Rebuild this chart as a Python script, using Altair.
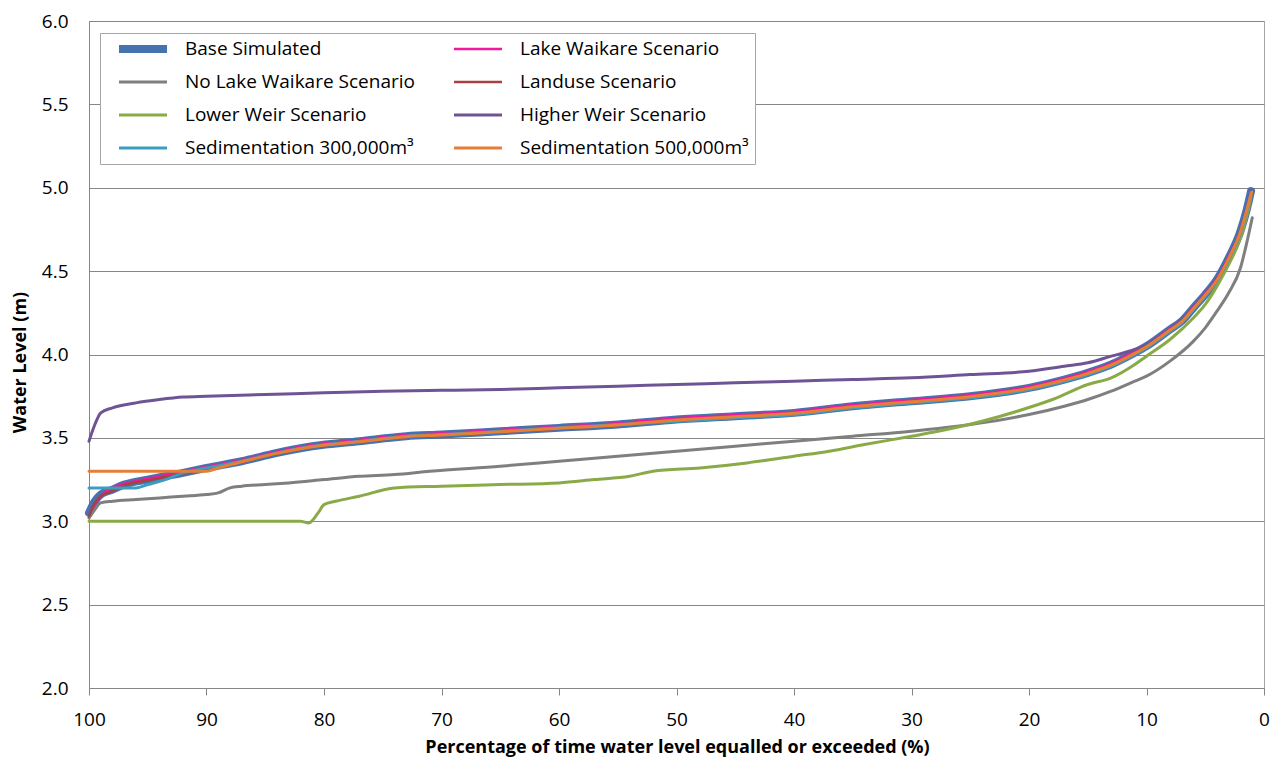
import altair as alt
import pandas as pd

# legend is filled column by column, so the domain is in column-major order
series_names = [
    "Base Simulated", "No Lake Waikare Scenario",
    "Lower Weir Scenario", "Sedimentation 300,000m³",
    "Lake Waikare Scenario", "Landuse Scenario",
    "Higher Weir Scenario", "Sedimentation 500,000m³",
]
series_colors = ["#4672B0", "#7F7F7F", "#8AAA48", "#3C9DBE",
                 "#F0199B", "#A5423F", "#6E5494", "#E57F36"]
series_widths = [8, 3, 3, 3, 2.5, 2.5, 3, 3]

# drawing order (bottom to top)
draw_order = [
    "Base Simulated", "Lake Waikare Scenario", "No Lake Waikare Scenario",
    "Landuse Scenario", "Lower Weir Scenario", "Higher Weir Scenario",
    "Sedimentation 300,000m³", "Sedimentation 500,000m³",
]

# shared exceedance grid for the base-like curves (%)
grid_x = [100, 99.5, 99, 98, 97, 95, 92, 90, 87, 84, 81, 77, 73, 70, 65, 60, 55,
          50, 45, 40, 35, 30, 25, 20, 17, 15, 13, 11, 10, 8, 7, 6, 5, 4, 3, 2, 1.5, 1.1]

base_y = [3.05, 3.12, 3.16, 3.19, 3.22, 3.25, 3.29, 3.32, 3.36, 3.41, 3.45, 3.48, 3.51,
          3.52, 3.54, 3.56, 3.58, 3.61, 3.63, 3.65, 3.69, 3.72, 3.75, 3.80, 3.85, 3.89,
          3.94, 4.01, 4.05, 4.15, 4.20, 4.28, 4.36, 4.45, 4.58, 4.74, 4.86, 4.98]
lake_y = [3.02, 3.10, 3.15, 3.20, 3.225, 3.255, 3.297, 3.327, 3.367, 3.417, 3.457, 3.487,
          3.517, 3.527, 3.547, 3.567, 3.587, 3.617, 3.637, 3.657, 3.697, 3.727, 3.757, 3.807,
          3.857, 3.897, 3.947, 4.017, 4.057, 4.157, 4.207, 4.287, 4.367, 4.457, 4.587,
          4.747, 4.867, 4.985]
landuse_y = [3.03, 3.11, 3.15, 3.18, 3.215, 3.245, 3.285, 3.315, 3.355, 3.405, 3.445, 3.475,
             3.505, 3.515, 3.535, 3.555, 3.575, 3.605, 3.625, 3.645, 3.685, 3.715, 3.745,
             3.795, 3.845, 3.885, 3.935, 4.005, 4.045, 4.145, 4.195, 4.275, 4.355, 4.445,
             4.575, 4.735, 4.855, 4.975]

nolake_x = [100, 99.5, 99, 98, 96, 94, 92, 90, 89, 88, 87, 85, 83, 80, 77, 74, 71, 65, 60,
            55, 50, 45, 40, 35, 30, 25, 20, 17, 15, 13, 11, 10, 8, 6, 5, 4, 3, 2, 1.5, 1.0]
nolake_y = [3.02, 3.07, 3.11, 3.12, 3.13, 3.14, 3.15, 3.16, 3.17, 3.20, 3.21, 3.22, 3.23,
            3.25, 3.27, 3.28, 3.30, 3.33, 3.36, 3.39, 3.42, 3.45, 3.48, 3.51, 3.54, 3.58,
            3.64, 3.69, 3.73, 3.78, 3.84, 3.87, 3.96, 4.08, 4.16, 4.26, 4.37, 4.52, 4.66, 4.82]

lower_x = [100, 90, 82, 81.3, 80.5, 80, 79, 77, 74, 70, 65, 60, 57, 54, 52, 48, 44, 40, 37,
           34, 30, 27, 24, 21, 18, 15, 13, 11, 10, 8, 6, 5, 4, 3, 2, 1.5, 1.1]
lower_y = [3.0, 3.0, 3.0, 2.99, 3.05, 3.10, 3.12, 3.15, 3.20, 3.21, 3.22, 3.23, 3.25, 3.27,
           3.30, 3.32, 3.35, 3.39, 3.42, 3.46, 3.51, 3.55, 3.60, 3.66, 3.73, 3.82, 3.86,
           3.94, 3.99, 4.09, 4.22, 4.30, 4.41, 4.54, 4.70, 4.82, 4.95]

higher_x = [100, 99.5, 99, 98, 96, 94, 92, 90, 85, 80, 75, 70, 65, 60, 55, 50, 45, 40, 35,
            30, 25, 20, 17, 15, 13, 11, 10, 8, 7, 6, 5, 4, 3, 2, 1.5, 1.1]
higher_y = [3.48, 3.58, 3.65, 3.68, 3.71, 3.73, 3.745, 3.75, 3.76, 3.77, 3.78, 3.785, 3.79,
            3.80, 3.81, 3.82, 3.83, 3.84, 3.85, 3.86, 3.88, 3.90, 3.93, 3.95, 3.99, 4.03,
            4.06, 4.15, 4.21, 4.28, 4.36, 4.45, 4.58, 4.74, 4.86, 4.98]

sed300_x = [100, 98, 96, 95, 93.5, 92, 90, 87, 84, 81, 77, 73, 70, 65, 60, 55, 50, 45, 40,
            35, 30, 25, 20, 17, 15, 13, 11, 10, 8, 7, 6, 5, 4, 3, 2, 1.5, 1.1]
sed300_y = [3.20, 3.20, 3.20, 3.22, 3.25, 3.29, 3.32, 3.36, 3.41, 3.45, 3.48, 3.51, 3.52,
            3.54, 3.56, 3.58, 3.60, 3.62, 3.64, 3.68, 3.71, 3.74, 3.79, 3.84, 3.88, 3.93,
            4.00, 4.04, 4.14, 4.19, 4.27, 4.35, 4.44, 4.57, 4.73, 4.85, 4.97]

sed500_x = [100, 95, 90, 89, 87, 84, 81, 77, 73, 70, 65, 60, 55, 50, 45, 40, 35, 30, 25, 20,
            17, 15, 13, 11, 10, 8, 7, 6, 5, 4, 3, 2, 1.5, 1.05]
sed500_y = [3.30, 3.30, 3.30, 3.32, 3.357, 3.407, 3.447, 3.477, 3.507, 3.517, 3.537, 3.557,
            3.577, 3.607, 3.627, 3.647, 3.687, 3.717, 3.747, 3.797, 3.847, 3.887, 3.937,
            4.007, 4.047, 4.147, 4.197, 4.277, 4.357, 4.447, 4.577, 4.737, 4.857, 4.975]

x_ticks = [0, 10, 20, 30, 40, 50, 60, 70, 80, 90, 100]
y_ticks = [2.0, 2.5, 3.0, 3.5, 4.0, 4.5, 5.0, 5.5, 6.0]

series_data = {
    "Base Simulated": (grid_x, base_y),
    "Lake Waikare Scenario": (grid_x, lake_y),
    "No Lake Waikare Scenario": (nolake_x, nolake_y),
    "Landuse Scenario": (grid_x, landuse_y),
    "Lower Weir Scenario": (lower_x, lower_y),
    "Higher Weir Scenario": (higher_x, higher_y),
    "Sedimentation 300,000m³": (sed300_x, sed300_y),
    "Sedimentation 500,000m³": (sed500_x, sed500_y),
}

rows = []
for name, (xs, ys) in series_data.items():
    for xv, yv in zip(xs, ys):
        rows.append({"series": name, "pct": xv, "level": yv})
df = pd.DataFrame(rows)

FONT = "Open Sans"
GRID = "#868686"

legend = alt.Legend(
    title=None, orient="none", legendX=11, legendY=12, columns=2,
    symbolType="stroke", symbolSize=2304, symbolOffset=9, clipHeight=20,
    labelFont=FONT, labelFontSize=19, labelColor="black", labelLimit=400,
    labelOffset=14, strokeColor="#A6A6A6", fillColor="white", padding=6,
    rowPadding=13, columnPadding=26,
)

x_enc = alt.X(
    "pct:Q",
    scale=alt.Scale(domain=[0, 100], reverse=True, nice=False, zero=False),
    axis=alt.Axis(
        values=x_ticks, format="d", grid=False, ticks=True, tickSize=7,
        tickColor=GRID, domainColor=GRID, labelFont=FONT, labelFontSize=19,
        labelColor="black", labelPadding=15, labelFlush=False,
        title="Percentage of time water level equalled or exceeded (%)",
        titleFont=FONT, titleFontSize=18, titleFontWeight="bold",
        titleColor="black", titleX=588, titleY=59, titleBaseline="middle",
    ),
)
y_enc = alt.Y(
    "level:Q",
    scale=alt.Scale(domain=[2, 6], nice=False, zero=False),
    axis=alt.Axis(
        values=y_ticks, format=".1f", grid=True, gridColor=GRID, gridWidth=1,
        ticks=False, domainColor=GRID, labelFont=FONT, labelFontSize=19,
        labelColor="black", labelPadding=21, labelFlush=False,
        title="Water Level (m)", titleFont=FONT, titleFontSize=18,
        titleFontWeight="bold", titleColor="black", titleX=-69, titleY=341,
        titleBaseline="middle", titleAngle=-90,
    ),
)

color_scale = alt.Scale(domain=series_names, range=series_colors)
width_scale = alt.Scale(type="ordinal", domain=series_names, range=series_widths)

layers = []
for name in draw_order:
    layers.append(
        alt.Chart(df)
        .transform_filter(alt.datum.series == name)
        .mark_line(interpolate="monotone", strokeCap="round", strokeJoin="round")
        .encode(
            x=x_enc,
            y=y_enc,
            color=alt.Color("series:N", scale=color_scale, legend=legend),
            strokeWidth=alt.StrokeWidth("series:N", scale=width_scale, legend=legend),
        )
    )

chart = (
    alt.layer(*layers)
    .properties(
        width=1175, height=667,
        autosize=alt.AutoSizeParams(type="none"),
        padding={"left": 81, "top": 13, "right": 6, "bottom": 71},
        background="white",
    )
    .configure_view(stroke="#A6A6A6", strokeWidth=1)
)

chart.save("out.html", embed_options={"renderer": "svg", "actions": False})
